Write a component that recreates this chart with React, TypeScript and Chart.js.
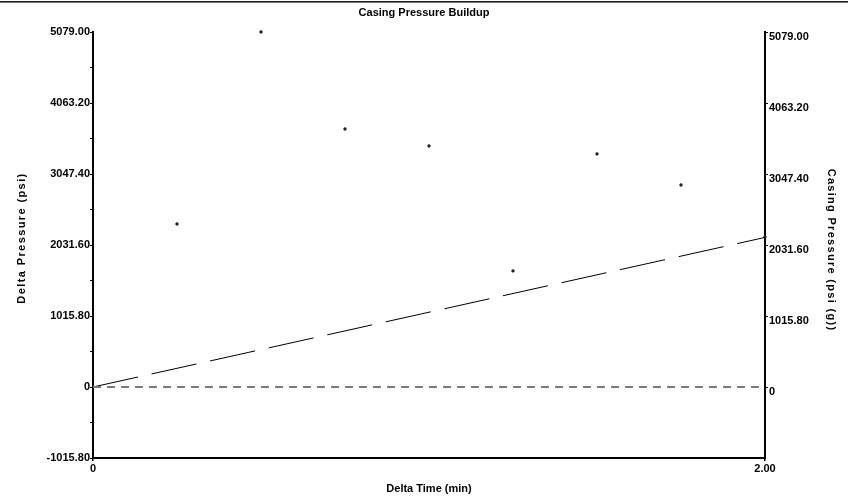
import React, { useEffect, useRef } from 'react';
import { Chart, registerables } from 'chart.js';

Chart.register(...registerables);

const chartTitle = 'Casing Pressure Buildup';
const xTitle = 'Delta Time (min)';
const yLeftTitle = 'Delta Pressure (psi)';
const yRightTitle = 'Casing Pressure (psi (g))';

const deltaTime = [0.25, 0.5, 0.75, 1.0, 1.25, 1.5, 1.75, 2.0];
const deltaPressure = [2332, 5079, 3691, 3448, 1660, 3334, 2890, 2146];
const trendTime = [0, 2];
const trendPressure = [0, 2140];
const baseTime = [0, 2];
const basePressure = [0, 0];

const xMin = 0;
const xMax = 2;
const yMin = -1015.8;
const yMax = 5079;
const xTickValues = [0, 2];
const xTickLabels = ['0', '2.00'];
const yLeftTickValues = [-1015.8, -507.9, 0, 507.9, 1015.8, 1523.7, 2031.6, 2539.5, 3047.4, 3555.3, 4063.2, 4571.1, 5079];
const yLeftTickLabels = ['-1015.80', '', '0', '', '1015.80', '', '2031.60', '', '3047.40', '', '4063.20', '', '5079.00'];
const yRightTickValues = [0, 1015.8, 2031.6, 3047.4, 4063.2, 5079];
const yRightTickLabels = ['0', '1015.80', '2031.60', '3047.40', '4063.20', '5079.00'];

const FONT = '"Liberation Sans", Arial, sans-serif';

const textPlugin = {
  id: 'textPlugin',
  afterDraw(chart: any) {
    const ctx = chart.ctx as CanvasRenderingContext2D;
    const area = chart.chartArea;
    ctx.save();
    ctx.fillStyle = '#1a1a1a';
    ctx.fillRect(0, 1, chart.width, 1.6);
    ctx.fillStyle = '#000';
    ctx.font = `bold 11px ${FONT}`;
    ctx.textAlign = 'center';
    ctx.textBaseline = 'middle';
    ctx.fillText(chartTitle, chart.width / 2, 13);
    ctx.fillText(xTitle, (area.left + area.right) / 2, 489);
    (ctx as any).letterSpacing = '1.4px';
    ctx.save();
    ctx.translate(22, 238);
    ctx.rotate(-Math.PI / 2);
    ctx.fillText(yLeftTitle, 0, 0);
    ctx.restore();
    (ctx as any).letterSpacing = '1.3px';
    ctx.save();
    ctx.translate(831, 250);
    ctx.rotate(Math.PI / 2);
    ctx.fillText(yRightTitle, 0, 0);
    ctx.restore();
    (ctx as any).letterSpacing = '0px';
    ctx.restore();
  },
};

export default function App() {
  const ref = useRef<HTMLCanvasElement | null>(null);
  useEffect(() => {
    if (!ref.current) return;
    const tickFont = { family: FONT, size: 11, weight: 'bold' as const };
    const chart = new Chart(ref.current, {
      type: 'scatter',
      data: {
        datasets: [
          {
            type: 'line',
            label: 'base',
            data: baseTime.map((x, i) => ({ x, y: basePressure[i] })),
            borderColor: '#7a7a7a',
            borderWidth: 2,
            borderDash: [8, 6],
            pointRadius: 0,
            fill: false,
            yAxisID: 'y',
          },
          {
            type: 'line',
            label: 'trend',
            data: trendTime.map((x, i) => ({ x, y: trendPressure[i] })),
            borderColor: '#000',
            borderWidth: 1,
            borderDash: [46, 14],
            pointRadius: 0,
            fill: false,
            yAxisID: 'y',
          },
          {
            type: 'scatter',
            label: 'Delta Pressure',
            data: deltaTime.map((x, i) => ({ x, y: deltaPressure[i] })),
            backgroundColor: '#222',
            borderColor: '#222',
            pointRadius: 1.4,
            borderWidth: 0.5,
            clip: false as any,
            yAxisID: 'y',
          },
        ] as any,
      },
      options: {
        animation: false,
        responsive: false,
        maintainAspectRatio: false,
        layout: { padding: { top: 32, left: 0, right: 0, bottom: 0 } },
        plugins: {
          legend: { display: false },
          title: { display: false },
          tooltip: { enabled: false },
        },
        scales: {
          x: {
            type: 'linear',
            position: 'bottom',
            min: xMin,
            max: xMax,
            afterBuildTicks: (s: any) => {
              s.ticks = xTickValues.map((v) => ({ value: v }));
            },
            afterFit: (s: any) => {
              s.height = 45;
            },
            grid: { drawOnChartArea: false, drawTicks: true, tickLength: 3, color: '#000', lineWidth: 1.5 },
            border: { display: true, color: '#000', width: 2 },
            ticks: {
              font: tickFont,
              color: '#000',
              padding: 1,
              maxRotation: 0,
              autoSkip: false,
              callback: (_v: any, i: number) => xTickLabels[i],
            },
          },
          y: {
            type: 'linear',
            position: 'left',
            min: yMin,
            max: yMax,
            afterBuildTicks: (s: any) => {
              s.ticks = yLeftTickValues.map((v) => ({ value: v }));
            },
            afterFit: (s: any) => {
              s.width = 93;
            },
            grid: { drawOnChartArea: false, drawTicks: true, tickLength: 3, color: '#000', lineWidth: 1 },
            border: { display: true, color: '#000', width: 2 },
            ticks: {
              font: tickFont,
              color: '#000',
              padding: 0,
              autoSkip: false,
              callback: (_v: any, i: number) => yLeftTickLabels[i],
            },
          },
          y2: {
            type: 'linear',
            position: 'right',
            display: true,
            min: yMin,
            max: yMax,
            afterBuildTicks: (s: any) => {
              s.ticks = yRightTickValues.map((v) => ({ value: v }));
            },
            afterFit: (s: any) => {
              s.width = 83;
            },
            grid: { drawOnChartArea: false, drawTicks: true, tickLength: 3, color: '#000', lineWidth: 1 },
            border: { display: true, color: '#000', width: 2 },
            ticks: {
              font: tickFont,
              color: '#000',
              padding: 1,
              labelOffset: 5,
              autoSkip: false,
              callback: (_v: any, i: number) => yRightTickLabels[i],
            },
          },
        },
      } as any,
      plugins: [textPlugin],
    });
    return () => chart.destroy();
  }, []);
  return (
    <div style={{ position: 'fixed', left: 0, top: 0, width: 848, height: 503, background: '#fff' }}>
      <canvas ref={ref} width={848} height={503} style={{ width: 848, height: 503, display: 'block' }} />
    </div>
  );
}
